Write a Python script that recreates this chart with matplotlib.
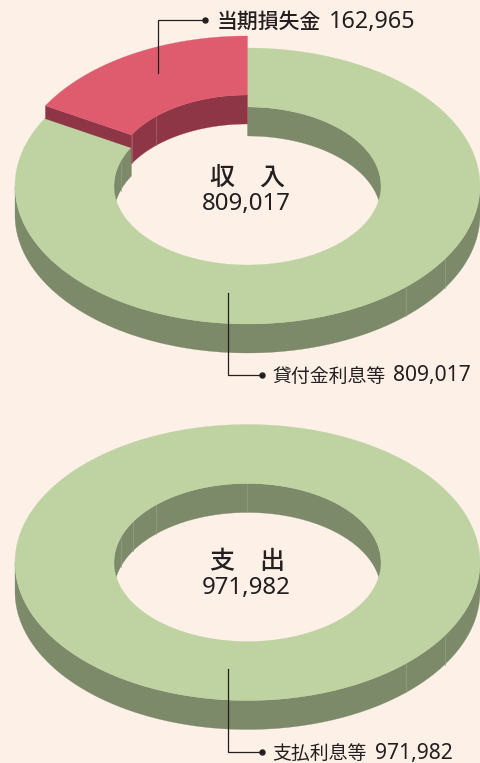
import numpy as np
import matplotlib
matplotlib.use('Agg')
import matplotlib.pyplot as plt
from matplotlib.patches import Polygon

plt.rcParams['font.family'] = ['Noto Sans CJK JP', 'DejaVu Sans']

# values
income_labels = ['貸付金利息等', '当期損失金']
income_values = [809017, 162965]
expense_labels = ['支払利息等']
expense_values = [971982]

BG = '#fdf0e6'
GREEN = '#bed2a2'
GREEN_DARK = '#7c8a6a'
RED = '#de5c6e'
RED_DARK = '#8f3646'
INK = '#231f20'
NUM_FONT = 'Noto Sans'

CX = 247.5
RX, RY = 232.5, 138
IRX, IRY = 133.5, 79
DEPTH = 29
LIFT = 12

# angles (from 12 o'clock, clockwise) of the lighter facet lines on the walls
outer_seams = [122, 137]
inner_seams = [288, 301, 317]


def arc(cy, rx, ry, t0, t1, n=240):
  t = np.radians(np.linspace(t0, t1, n))
  return np.column_stack((CX + rx * np.sin(t), cy - ry * np.cos(t)))


def strip(ax, a, b, color, zorder):
  ax.add_patch(Polygon(np.vstack((a, b[::-1])), closed=True, fc=color, ec=color, lw=0.2, zorder=zorder))


def wall(ax, cy, rx, ry, t0, t1, color, zorder):
  strip(ax, arc(cy, rx, ry, t0, t1), arc(cy + DEPTH, rx, ry, t0, t1), color, zorder)


def seam(ax, cy, rx, ry, t, zorder, color='#95a283'):
  p = arc(cy, rx, ry, t, t, 1)[0]
  ax.plot([p[0], p[0]], [p[1], p[1] + DEPTH], color=color, lw=0.5, zorder=zorder)


def donut(ax, cy, values):
  total = float(sum(values))
  green_end = 360.0 * values[0] / total

  # outer front wall
  wall(ax, cy, RX, RY, 90, 270, GREEN_DARK, 1)
  for t in outer_seams:
    seam(ax, cy, RX, RY, t, 1.5)

  # back of the hole
  wall(ax, cy, IRX, IRY, 0, 90, GREEN_DARK, 2)
  wall(ax, cy, IRX, IRY, 270, min(green_end, 360), GREEN_DARK, 2)
  for t in inner_seams:
    if t < green_end:
      seam(ax, cy, IRX, IRY, t, 2.5)

  # top face
  strip(ax, arc(cy, RX, RY, 0, green_end), arc(cy, IRX, IRY, 0, green_end), GREEN, 3)

  if len(values) > 1:
    top = cy - LIFT
    # cut face, only the lifted part stays visible
    p0 = arc(top, RX, RY, green_end, green_end, 1)
    p1 = arc(top, IRX, IRY, green_end, green_end, 1)
    ax.add_patch(Polygon(np.vstack((p0, p1, p1 + [0, LIFT + 1], p0 + [0, LIFT + 1])), closed=True,
      fc=RED_DARK, ec=RED_DARK, lw=0.2, zorder=4))
    # inner wall of the slice
    wall(ax, top, IRX, IRY, green_end, 360, RED_DARK, 5)
    for t in [green_end + 0.6, 317]:
      seam(ax, top, IRX, IRY, t, 5.5, '#ad6672')
    strip(ax, arc(top, RX, RY, green_end, 360), arc(top, IRX, IRY, green_end, 360), RED, 6)


def leader(ax, x0, y0, y1, x1):
  ax.plot([x0, x0, x1], [y0, y1, y1], color=INK, lw=0.9, zorder=8, solid_joinstyle='miter')
  ax.plot([x1], [y1], 'o', color=INK, ms=3.6, zorder=8)


def label(ax, x, nx, y, name, value, size, nsize, weight='normal'):
  ax.text(x, y + 1, name, fontsize=size, fontweight=weight, color=INK, va='center', ha='left', zorder=9)
  ax.text(nx, y + 1, format(value, ','), fontsize=nsize, fontweight=weight, family=NUM_FONT, color=INK,
    va='center', ha='left', zorder=9)


def centre(ax, y, name, value):
  ax.text(247.5, y + 3, name, fontsize=18, fontweight='medium', color=INK, ha='center', va='center', zorder=9)
  ax.text(246, y + 29, format(value, ','), fontsize=17.3, family=NUM_FONT, color=INK, ha='center', va='center', zorder=9)


fig = plt.figure(figsize=(4.81, 7.63), dpi=100, facecolor=BG)
ax = fig.add_axes([0, 0, 1, 1])
ax.set_xlim(0, 481)
ax.set_ylim(763, 0)
ax.axis('off')

donut(ax, 186, income_values)
donut(ax, 562.5, expense_values)

leader(ax, 158, 73, 20, 205)
label(ax, 217, 329, 21, income_labels[1], income_values[1], 15, 16.8, 'medium')
leader(ax, 228, 293, 375, 262)
label(ax, 272.5, 393.5, 375, income_labels[0], income_values[0], 13.6, 15.2)
leader(ax, 228, 669, 752, 262)
label(ax, 272.5, 375.5, 752, expense_labels[0], expense_values[0], 13.6, 15.2)

centre(ax, 175, '収\u3000入', income_values[0])
centre(ax, 559, '支\u3000出', expense_values[0])

fig.savefig('out.png', dpi=100, facecolor=BG)
